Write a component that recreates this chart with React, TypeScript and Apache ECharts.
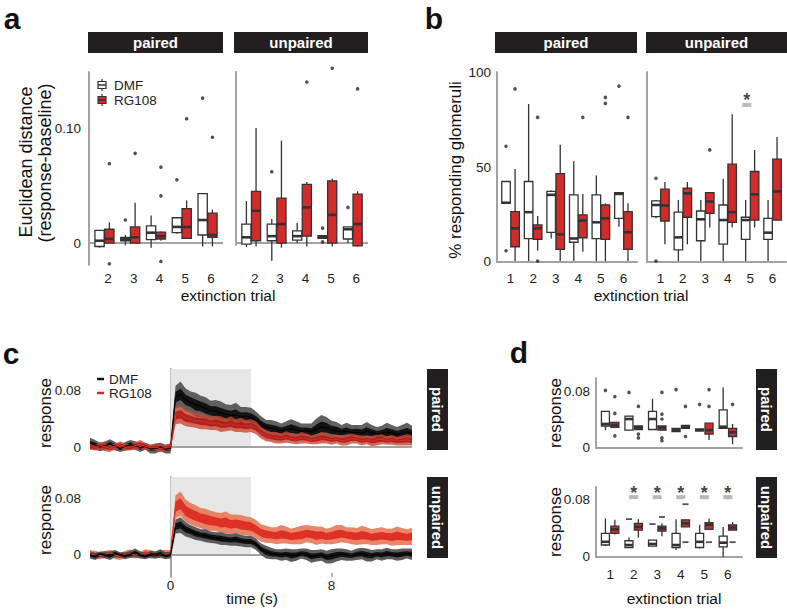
import React, { useEffect, useRef } from 'react';
import * as echarts from 'echarts';

const FONT = '"Liberation Sans", Arial, Helvetica, sans-serif';
const RED = '#d42a2a';
const DARK = '#333333';
const AXIS_GRAY = '#a2a2a2';
const STRIP = '#231f20';

// ---------- panel a: Euclidean distance ----------
const TRIALS_A = [2, 3, 4, 5, 6];
// [min, q1, median, q3, max]
const A_PAIRED_DMF = [
  [-0.004, -0.003, 0.002, 0.011, 0.011],
  [-0.002, 0.002, 0.0035, 0.005, 0.007],
  [-0.004, 0.003, 0.009, 0.015, 0.024],
  [0.008, 0.009, 0.014, 0.022, 0.022],
  [-0.003, 0.007, 0.02, 0.043, 0.043],
];
const A_PAIRED_RG = [
  [0.0, 0.0, 0.0035, 0.012, 0.018],
  [0.0, 0.0, 0.005, 0.014, 0.035],
  [0.002, 0.0035, 0.006, 0.0095, 0.01],
  [0.004, 0.004, 0.014, 0.03, 0.037],
  [-0.003, 0.005, 0.007, 0.026, 0.029],
];
const A_PAIRED_DMF_OUT = [[3, 0.02], [5, 0.055], [6, 0.126]];
const A_PAIRED_RG_OUT = [[2, 0.069], [2, -0.018], [3, 0.078], [4, 0.066], [4, 0.041], [4, -0.016], [5, 0.108], [6, 0.092]];
const A_UNPAIRED_DMF = [
  [-0.0035, -0.001, 0.005, 0.0165, 0.0365],
  [-0.0155, 0.002, 0.006, 0.0165, 0.021],
  [0.0, 0.0025, 0.006, 0.0105, 0.0175],
  [0.004, 0.004, 0.005, 0.0065, 0.0065],
  [0.0, 0.0035, 0.012, 0.014, 0.014],
];
const A_UNPAIRED_RG = [
  [-0.003, 0.002, 0.028, 0.045, 0.1],
  [-0.004, 0.0, 0.0165, 0.039, 0.089],
  [-0.003, 0.006, 0.031, 0.051, 0.053],
  [-0.003, 0.0, 0.0245, 0.054, 0.056],
  [-0.003, -0.0025, 0.0165, 0.0425, 0.045],
];
const A_UNPAIRED_DMF_OUT = [[3, 0.062], [5, 0.013], [5, 0.001], [6, 0.031]];
const A_UNPAIRED_RG_OUT = [[4, 0.14], [5, 0.152], [6, 0.134]];

// ---------- panel b: % responding glomeruli ----------
const TRIALS_BD = [1, 2, 3, 4, 5, 6];
const B_PAIRED_DMF = [
  [30.7, 30.7, 31, 42.3, 42.3],
  [0, 11.9, 26, 42.3, 83.5],
  [12, 15.3, 35.2, 37, 37.5],
  [0, 10, 12, 35.2, 53],
  [0, 11.9, 20.6, 35.2, 45.5],
  [18.3, 22.7, 35.7, 36.4, 36.4],
];
const B_PAIRED_RG = [
  [0, 7.6, 17.4, 26.3, 49],
  [5.5, 11.5, 17.4, 19.2, 24],
  [0, 6.2, 14.2, 46.5, 61.8],
  [5, 12.4, 21.5, 24.5, 35.7],
  [0, 11.5, 22.7, 29.8, 30.7],
  [0, 6.2, 15.3, 26.3, 30.7],
];
const B_PAIRED_DMF_OUT = [[1, 61], [1, 5.5], [6, 93]];
const B_PAIRED_RG_OUT = [[1, 91.5], [2, 76.4], [2, 0], [4, 76.4], [5, 87], [5, 83.8], [6, 76.4]];
const B_UNPAIRED_DMF = [
  [22.7, 23.6, 29.8, 32, 32.5],
  [0, 5.9, 12.6, 26, 32.5],
  [0, 10.8, 22.2, 26.6, 32.5],
  [0, 9, 21.8, 29.8, 43.7],
  [0, 11.5, 21.8, 23.3, 32.5],
  [0, 11.5, 15.1, 22.7, 32.5],
];
const B_UNPAIRED_RG = [
  [8.9, 21.3, 29.5, 38.2, 42],
  [8.9, 23.3, 36, 38.7, 42],
  [17.8, 25.4, 31.6, 36.4, 36.4],
  [17.8, 20.6, 26, 51.5, 78],
  [17.8, 21.8, 35.5, 47.6, 59],
  [21.8, 21.8, 37, 54.2, 66],
];
const B_UNPAIRED_DMF_OUT = [[1, 44], [1, 0]];
const B_UNPAIRED_RG_OUT = [[3, 59.1]];
const B_SIG_TRIALS = [5];
const B_SIG_BAR = 83;
const B_SIG_STAR = 85.5;

// ---------- panel c: response time courses ----------
const TIME_START = -4;
const TIME_STEP = 0.25;
const C_PAIRED_DMF_MEAN = [
  0.005, 0.003, 0.0, 0.002, 0.004, 0.001, -0.002, 0.001, 0.003, 0.002, -0.001, 0.001, -0.003, -0.002, 0.0, -0.003, -0.002,
  0.07, 0.074, 0.066, 0.063, 0.059, 0.057, 0.054, 0.051, 0.05, 0.047, 0.046, 0.044, 0.045, 0.042, 0.043, 0.041,
  0.038, 0.032, 0.028, 0.026, 0.025, 0.023, 0.024, 0.026, 0.024, 0.022, 0.023, 0.021, 0.025, 0.028, 0.027, 0.024,
  0.023, 0.021, 0.022, 0.02, 0.021, 0.019, 0.022, 0.02, 0.018, 0.019, 0.021, 0.02, 0.018, 0.019, 0.021, 0.019,
];
const C_PAIRED_DMF_SEM = [
  0.008, 0.007, 0.006, 0.006, 0.007, 0.006, 0.005, 0.006, 0.007, 0.006, 0.006, 0.005, 0.006, 0.007, 0.006, 0.006, 0.007,
  0.016, 0.018, 0.016, 0.015, 0.017, 0.015, 0.016, 0.014, 0.016, 0.017, 0.014, 0.015, 0.017, 0.014, 0.013, 0.014,
  0.012, 0.011, 0.01, 0.012, 0.011, 0.01, 0.012, 0.013, 0.012, 0.011, 0.01, 0.012, 0.015, 0.017, 0.015, 0.013,
  0.012, 0.01, 0.012, 0.011, 0.01, 0.012, 0.013, 0.011, 0.01, 0.011, 0.013, 0.011, 0.01, 0.012, 0.013, 0.011,
];
const C_PAIRED_RG_MEAN = [
  0.001, -0.001, 0.002, 0.0, -0.002, 0.001, 0.003, 0.0, -0.001, 0.002, 0.004, 0.001, -0.001, 0.0, -0.002, -0.001, 0.0,
  0.044, 0.046, 0.041, 0.039, 0.037, 0.036, 0.035, 0.033, 0.034, 0.032, 0.031, 0.033, 0.03, 0.031, 0.029, 0.03,
  0.027, 0.02, 0.016, 0.014, 0.013, 0.012, 0.014, 0.012, 0.011, 0.013, 0.012, 0.01, 0.011, 0.013, 0.012, 0.01,
  0.011, 0.009, 0.01, 0.012, 0.011, 0.009, 0.01, 0.008, 0.01, 0.011, 0.009, 0.01, 0.008, 0.009, 0.01, 0.009,
];
const C_PAIRED_RG_SEM = [
  0.005, 0.004, 0.005, 0.006, 0.005, 0.004, 0.005, 0.005, 0.004, 0.005, 0.006, 0.005, 0.004, 0.005, 0.005, 0.004, 0.005,
  0.012, 0.013, 0.012, 0.011, 0.01, 0.011, 0.01, 0.009, 0.01, 0.011, 0.009, 0.01, 0.009, 0.01, 0.009, 0.009,
  0.009, 0.008, 0.008, 0.007, 0.008, 0.007, 0.008, 0.007, 0.007, 0.008, 0.007, 0.006, 0.007, 0.008, 0.007, 0.007,
  0.006, 0.007, 0.008, 0.007, 0.006, 0.007, 0.006, 0.007, 0.008, 0.007, 0.006, 0.007, 0.006, 0.007, 0.008, 0.007,
];
const C_UNPAIRED_DMF_MEAN = [
  0.0, -0.002, 0.001, 0.0, -0.001, 0.002, 0.0, -0.001, 0.001, 0.003, 0.0, -0.002, 0.001, 0.0, 0.002, -0.001, 0.0,
  0.04, 0.042, 0.036, 0.033, 0.03, 0.028, 0.027, 0.025, 0.024, 0.023, 0.022, 0.021, 0.022, 0.02, 0.019, 0.019,
  0.015, 0.008, 0.004, 0.002, 0.001, 0.0, 0.001, -0.001, 0.0, 0.002, 0.001, -0.002, -0.001, 0.0, -0.003, -0.002,
  0.0, 0.001, 0.0, -0.001, 0.001, 0.002, 0.0, -0.001, 0.001, 0.0, 0.002, 0.001, 0.0, 0.001, 0.002, 0.001,
];
const C_UNPAIRED_DMF_SEM = [
  0.005, 0.005, 0.004, 0.005, 0.006, 0.005, 0.004, 0.005, 0.005, 0.006, 0.005, 0.004, 0.005, 0.005, 0.006, 0.005, 0.005,
  0.01, 0.011, 0.01, 0.009, 0.009, 0.008, 0.009, 0.008, 0.008, 0.009, 0.008, 0.008, 0.009, 0.008, 0.008, 0.008,
  0.008, 0.008, 0.009, 0.008, 0.007, 0.008, 0.008, 0.009, 0.008, 0.007, 0.008, 0.009, 0.008, 0.008, 0.009, 0.01,
  0.009, 0.008, 0.008, 0.007, 0.008, 0.008, 0.009, 0.008, 0.007, 0.008, 0.008, 0.007, 0.008, 0.008, 0.007, 0.008,
];
const C_UNPAIRED_RG_MEAN = [
  0.002, 0.0, -0.001, 0.001, 0.003, 0.0, -0.002, 0.001, 0.002, 0.0, 0.001, 0.003, 0.001, 0.0, 0.002, 0.001, 0.002,
  0.068, 0.072, 0.062, 0.058, 0.055, 0.052, 0.05, 0.048, 0.047, 0.045, 0.046, 0.043, 0.044, 0.042, 0.041, 0.04,
  0.036, 0.031, 0.029, 0.028, 0.027, 0.029, 0.028, 0.026, 0.027, 0.028, 0.03, 0.029, 0.027, 0.028, 0.026, 0.027,
  0.029, 0.03, 0.028, 0.027, 0.026, 0.028, 0.027, 0.025, 0.026, 0.027, 0.026, 0.025, 0.027, 0.026, 0.025, 0.026,
];
const C_UNPAIRED_RG_SEM = [
  0.005, 0.006, 0.005, 0.005, 0.004, 0.006, 0.005, 0.005, 0.006, 0.005, 0.004, 0.005, 0.006, 0.005, 0.005, 0.006, 0.005,
  0.016, 0.017, 0.016, 0.015, 0.015, 0.014, 0.015, 0.014, 0.013, 0.014, 0.015, 0.014, 0.013, 0.014, 0.013, 0.013,
  0.013, 0.012, 0.012, 0.011, 0.012, 0.013, 0.012, 0.011, 0.012, 0.013, 0.012, 0.012, 0.013, 0.012, 0.011, 0.012,
  0.013, 0.012, 0.011, 0.012, 0.012, 0.013, 0.012, 0.011, 0.012, 0.012, 0.011, 0.012, 0.013, 0.012, 0.011, 0.012,
];
const C_STIM = [0, 4];

// ---------- panel d: response per trial ----------
const D_PAIRED_DMF = [
  [0.025, 0.031, 0.034, 0.052, 0.052],
  [0.025, 0.025, 0.041, 0.045, 0.045],
  [0.026, 0.026, 0.041, 0.052, 0.07],
  [0.023, 0.023, 0.025, 0.0275, 0.0275],
  [0.024, 0.024, 0.025, 0.027, 0.027],
  [0.0275, 0.0275, 0.03, 0.054, 0.086],
];
const D_PAIRED_RG = [
  [0.029, 0.029, 0.032, 0.036, 0.036],
  [0.026, 0.026, 0.029, 0.031, 0.031],
  [0.025, 0.025, 0.0285, 0.031, 0.031],
  [0.0275, 0.0275, 0.03, 0.032, 0.032],
  [0.011, 0.0195, 0.025, 0.035, 0.035],
  [0.005, 0.016, 0.022, 0.0275, 0.034],
];
const D_PAIRED_DMF_OUT = [[1, 0.082], [2, 0.079], [4, 0.083], [5, 0.062]];
const D_PAIRED_RG_OUT = [
  [1, 0.073], [1, 0.049], [1, 0.017], [2, 0.059], [2, 0.0195], [2, 0.014],
  [3, 0.079], [3, 0.048], [3, 0.041], [3, 0.014], [3, 0.01], [4, 0.059], [4, 0.016],
  [5, 0.083], [5, 0.059], [6, 0.062],
];
const D_UNPAIRED_DMF = [
  [0.015, 0.0165, 0.021, 0.033, 0.054],
  [0.013, 0.013, 0.0165, 0.0225, 0.027],
  [0.015, 0.015, 0.018, 0.0235, 0.0235],
  [0.0094, 0.013, 0.0165, 0.033, 0.053],
  [0.0118, 0.013, 0.021, 0.033, 0.045],
  [0.0, 0.014, 0.0198, 0.029, 0.042],
];
const D_UNPAIRED_RG = [
  [0.0315, 0.033, 0.0385, 0.043, 0.052],
  [0.027, 0.0375, 0.042, 0.047, 0.053],
  [0.029, 0.036, 0.04, 0.043, 0.047],
  [0.042, 0.042, 0.047, 0.052, 0.052],
  [0.0375, 0.0385, 0.045, 0.048, 0.054],
  [0.0375, 0.0375, 0.041, 0.045, 0.049],
];
const D_UNPAIRED_DMF_OUT = [[2, 0.053], [3, 0.046]];
const D_UNPAIRED_RG_OUT = [[3, 0.056], [4, 0.074], [4, 0.0205], [5, 0.0205], [6, 0.0205]];
const D_SIG_TRIALS = [2, 3, 4, 5, 6];
const D_SIG_BAR = 0.084;
const D_SIG_STAR = 0.09;

// ---------- helpers ----------
const boxRows = (trials: number[], stats: number[][], off: number) =>
  trials.map((t, i) => [t + off, ...stats[i]]);
const outRows = (list: number[][], off: number) => list.map(([t, v]) => [t + off, v]);

function boxSeries(gi: number, rows: number[][], fill: string, hw: number) {
  return {
    type: 'custom',
    xAxisIndex: gi,
    yAxisIndex: gi,
    z: 3,
    silent: true,
    data: rows,
    encode: { x: 0, y: [1, 2, 3, 4, 5] },
    renderItem: (params: any, api: any) => {
      const x = api.value(0);
      const mn = api.value(1), q1 = api.value(2), md = api.value(3), q3 = api.value(4), mx = api.value(5);
      const a = api.coord([x, mn]);
      const b = api.coord([x, mx]);
      const tl = api.coord([x - hw, q3]);
      const br = api.coord([x + hw, q1]);
      const ml = api.coord([x - hw, md]);
      const mr = api.coord([x + hw, md]);
      return {
        type: 'group',
        children: [
          { type: 'line', shape: { x1: a[0], y1: a[1], x2: b[0], y2: b[1] }, style: { stroke: DARK, lineWidth: 1.3 } },
          {
            type: 'rect',
            shape: { x: tl[0], y: tl[1], width: br[0] - tl[0], height: Math.max(br[1] - tl[1], 1.5) },
            style: { fill, stroke: DARK, lineWidth: 1.3 },
          },
          { type: 'line', shape: { x1: ml[0], y1: ml[1], x2: mr[0], y2: mr[1] }, style: { stroke: DARK, lineWidth: 2.6 } },
        ],
      };
    },
  };
}

function outlierSeries(gi: number, rows: number[][], dash = false) {
  return {
    type: 'scatter',
    xAxisIndex: gi,
    yAxisIndex: gi,
    z: 4,
    silent: true,
    clip: false,
    symbol: dash ? 'rect' : 'circle',
    symbolSize: dash ? [6, 1.8] : 3.6,
    itemStyle: { color: '#262626' },
    data: rows,
  };
}

function sigSeries(gi: number, trials: number[], bar: number, star: number) {
  return [
    {
      type: 'scatter', xAxisIndex: gi, yAxisIndex: gi, z: 4, silent: true, clip: false,
      symbol: 'rect', symbolSize: [9, 4], itemStyle: { color: '#a8a8a8' },
      data: trials.map((t) => [t, bar]),
    },
    {
      type: 'scatter', xAxisIndex: gi, yAxisIndex: gi, z: 4, silent: true, clip: false,
      symbol: 'circle', symbolSize: 1, itemStyle: { color: 'transparent' },
      label: { show: true, position: 'inside', formatter: '*', fontSize: 18, fontWeight: 'bold', color: '#111', fontFamily: FONT },
      data: trials.map((t) => [t, star]),
    },
  ];
}

function bandSeries(gi: number, rows: number[][], color: string, z: number) {
  return {
    type: 'custom',
    xAxisIndex: gi,
    yAxisIndex: gi,
    z,
    silent: true,
    data: rows,
    encode: { x: 0, y: [1, 2] },
    renderItem: (params: any, api: any) => {
      if (params.dataIndex !== 0) return null;
      const upper = rows.map((r) => api.coord([r[0], r[2]]));
      const lower = rows.map((r) => api.coord([r[0], r[1]])).reverse();
      return { type: 'polygon', shape: { points: upper.concat(lower) }, style: { fill: color } };
    },
  };
}

function meanLine(gi: number, time: number[], mean: number[], color: string, z: number) {
  return {
    type: 'line', xAxisIndex: gi, yAxisIndex: gi, z, silent: true, clip: false,
    showSymbol: false, symbol: 'none',
    lineStyle: { color, width: 1.1 },
    data: time.map((t, i) => [t, mean[i]]),
  };
}

const TIME = C_PAIRED_DMF_MEAN.map((_, i) => TIME_START + i * TIME_STEP);
const bandRows = (mean: number[], sem: number[], k: number) =>
  TIME.map((t, i) => [t, mean[i] - sem[i] * k, mean[i] + sem[i] * k]);

function txt(text: string, x: number, y: number, size: number, o: any = {}) {
  return {
    type: 'text', x, y, rotation: o.rot || 0, silent: true, z: 100,
    style: {
      text, x: 0, y: 0, fill: o.color || '#111',
      font: `${o.bold ? 'bold ' : ''}${size}px ${FONT}`,
      align: o.align || 'center', textAlign: o.align || 'center',
      verticalAlign: 'middle', textVerticalAlign: 'middle',
    },
  };
}
function strip(label: string, x: number, y: number, w: number, h: number, vertical = false) {
  return [
    { type: 'rect', shape: { x, y, width: w, height: h }, style: { fill: STRIP }, silent: true, z: 90 },
    txt(label, x + w / 2, y + h / 2, 15, { bold: true, color: '#ffffff', rot: vertical ? -Math.PI / 2 : 0 }),
  ];
}

const yFmt = (v: number) => (v === 0 ? '0' : Math.abs(v - 0.1) < 1e-9 ? '0.10' : String(v));

function yAxis(gi: number, min: number, max: number, labels: number[] | null, margin: number) {
  return {
    type: 'value', gridIndex: gi, min, max,
    axisLine: { show: true, lineStyle: { color: AXIS_GRAY, width: 2 } },
    axisTick: { show: false },
    splitLine: { show: false },
    axisLabel: labels
      ? { show: true, customValues: labels, formatter: yFmt, color: '#222', fontSize: 13.5, fontFamily: FONT, margin }
      : { show: false },
  };
}
function xAxis(gi: number, min: number, max: number, labels: number[] | null, margin: number, line: boolean, pad = 0) {
  return {
    type: 'value', gridIndex: gi, min, max,
    axisLine: { show: line, onZero: false, lineStyle: { color: AXIS_GRAY, width: 2 } },
    axisTick: { show: false },
    splitLine: { show: false },
    axisLabel: labels
      ? { show: true, customValues: labels, color: '#222', fontSize: 13.5, fontFamily: FONT, margin, padding: [0, 0, 0, pad] }
      : { show: false },
  };
}

function zeroLine(gi: number, x0: number, x1: number, area?: number[]) {
  const s: any = {
    type: 'line', xAxisIndex: gi, yAxisIndex: gi, z: 1, silent: true, symbol: 'none', showSymbol: false,
    lineStyle: { color: AXIS_GRAY, width: 2 },
    data: [[x0, 0], [x1, 0]],
  };
  if (area) {
    s.markArea = {
      silent: true,
      itemStyle: { color: '#e6e6e6' },
      data: [[{ coord: [C_STIM[0], 0] }, { coord: [C_STIM[1], area[1]] }]],
    };
  }
  return s;
}

export default function App() {
  const ref = useRef<HTMLDivElement>(null);
  useEffect(() => {
    if (!ref.current) return;
    const chart = echarts.init(ref.current, undefined, { renderer: 'svg' });
    const OA = 0.19, HA = 0.18; // panel a
    const OB = 0.2, HB = 0.19; // panel b
    const OD = 0.2, HD = 0.17; // panel d
    const cTopMax = 0.1095, cBotMax = 0.1095;

    const series: any[] = [
      // a paired
      zeroLine(0, 1.4, 6.6),
      boxSeries(0, boxRows(TRIALS_A, A_PAIRED_DMF, -OA), '#ffffff', HA),
      boxSeries(0, boxRows(TRIALS_A, A_PAIRED_RG, OA), RED, HA),
      outlierSeries(0, outRows(A_PAIRED_DMF_OUT, -OA).concat(outRows(A_PAIRED_RG_OUT, OA))),
      // a unpaired
      zeroLine(1, 1.4, 6.6),
      boxSeries(1, boxRows(TRIALS_A, A_UNPAIRED_DMF, -OA), '#ffffff', HA),
      boxSeries(1, boxRows(TRIALS_A, A_UNPAIRED_RG, OA), RED, HA),
      outlierSeries(1, outRows(A_UNPAIRED_DMF_OUT, -OA).concat(outRows(A_UNPAIRED_RG_OUT, OA))),
      // b paired
      boxSeries(2, boxRows(TRIALS_BD, B_PAIRED_DMF, -OB), '#ffffff', HB),
      boxSeries(2, boxRows(TRIALS_BD, B_PAIRED_RG, OB), RED, HB),
      outlierSeries(2, outRows(B_PAIRED_DMF_OUT, -OB).concat(outRows(B_PAIRED_RG_OUT, OB))),
      // b unpaired
      boxSeries(3, boxRows(TRIALS_BD, B_UNPAIRED_DMF, -OB), '#ffffff', HB),
      boxSeries(3, boxRows(TRIALS_BD, B_UNPAIRED_RG, OB), RED, HB),
      outlierSeries(3, outRows(B_UNPAIRED_DMF_OUT, -OB).concat(outRows(B_UNPAIRED_RG_OUT, OB))),
      ...sigSeries(3, B_SIG_TRIALS.map((t) => t - 0.15), B_SIG_BAR, B_SIG_STAR),
      // c paired
      zeroLine(4, -4, 12, [0, cTopMax]),
      bandSeries(4, bandRows(C_PAIRED_DMF_MEAN, C_PAIRED_DMF_SEM, 1), 'rgba(80,80,80,0.9)', 2),
      bandSeries(4, bandRows(C_PAIRED_DMF_MEAN, C_PAIRED_DMF_SEM, 0.45), 'rgba(15,15,15,0.95)', 3),
      bandSeries(4, bandRows(C_PAIRED_RG_MEAN, C_PAIRED_RG_SEM, 1), 'rgba(205,70,50,0.8)', 4),
      bandSeries(4, bandRows(C_PAIRED_RG_MEAN, C_PAIRED_RG_SEM, 0.45), 'rgba(170,30,25,0.9)', 5),
      meanLine(4, TIME, C_PAIRED_DMF_MEAN, '#000000', 6),
      meanLine(4, TIME, C_PAIRED_RG_MEAN, '#d42a2a', 6),
      // c unpaired
      zeroLine(5, -4, 12, [0, cBotMax]),
      bandSeries(5, bandRows(C_UNPAIRED_RG_MEAN, C_UNPAIRED_RG_SEM, 1), 'rgba(232,112,80,0.85)', 2),
      bandSeries(5, bandRows(C_UNPAIRED_RG_MEAN, C_UNPAIRED_RG_SEM, 0.45), 'rgba(220,40,30,0.9)', 3),
      bandSeries(5, bandRows(C_UNPAIRED_DMF_MEAN, C_UNPAIRED_DMF_SEM, 1), 'rgba(75,75,75,0.9)', 4),
      bandSeries(5, bandRows(C_UNPAIRED_DMF_MEAN, C_UNPAIRED_DMF_SEM, 0.45), 'rgba(15,15,15,0.95)', 5),
      meanLine(5, TIME, C_UNPAIRED_RG_MEAN, '#e0302a', 6),
      meanLine(5, TIME, C_UNPAIRED_DMF_MEAN, '#000000', 6),
      // d paired
      boxSeries(6, boxRows(TRIALS_BD, D_PAIRED_DMF, -OD), '#ffffff', HD),
      boxSeries(6, boxRows(TRIALS_BD, D_PAIRED_RG, OD), RED, HD),
      outlierSeries(6, outRows(D_PAIRED_DMF_OUT, -OD).concat(outRows(D_PAIRED_RG_OUT, OD))),
      // d unpaired
      boxSeries(7, boxRows(TRIALS_BD, D_UNPAIRED_DMF, -OD), '#ffffff', HD),
      boxSeries(7, boxRows(TRIALS_BD, D_UNPAIRED_RG, OD), RED, HD),
      outlierSeries(7, outRows(D_UNPAIRED_DMF_OUT, -OD).concat(outRows(D_UNPAIRED_RG_OUT, OD)), true),
      ...sigSeries(7, D_SIG_TRIALS, D_SIG_BAR, D_SIG_STAR),
    ];

    const graphic: any[] = [
      txt('a', 12, 18, 30, { bold: true, color: '#111' }),
      txt('b', 434, 18, 30, { bold: true, color: '#111' }),
      txt('c', 11, 353, 30, { bold: true, color: '#111' }),
      txt('d', 519, 352, 30, { bold: true, color: '#111' }),
      ...strip('paired', 88, 32, 135, 21),
      ...strip('unpaired', 234, 32, 134, 21),
      ...strip('paired', 495, 32, 142, 21),
      ...strip('unpaired', 646, 32, 141, 21),
      ...strip('paired', 427, 369, 21, 81, true),
      ...strip('unpaired', 427, 477, 21, 81, true),
      ...strip('paired', 756, 369, 21, 81, true),
      ...strip('unpaired', 756, 477, 21, 81, true),
      // axis titles
      txt('Euclidean distance', 26, 162, 18, { rot: Math.PI / 2 }),
      txt('(response-baseline)', 45, 163, 18, { rot: Math.PI / 2 }),
      txt('% responding glomeruli', 455, 170, 17, { rot: Math.PI / 2 }),
      txt('response', 45, 413, 17, { rot: Math.PI / 2 }),
      txt('response', 45, 520, 17, { rot: Math.PI / 2 }),
      txt('response', 555, 413, 17, { rot: Math.PI / 2 }),
      txt('response', 555, 522, 17, { rot: Math.PI / 2 }),
      txt('extinction trial', 228, 295, 15.5),
      txt('extinction trial', 641, 295, 15.5),
      txt('extinction trial', 674, 598, 15.5),
      txt('time (s)', 252, 598, 15.5),
      // legend a
      { type: 'line', shape: { x1: 102, y1: 79, x2: 102, y2: 91 }, style: { stroke: DARK, lineWidth: 1.2 }, z: 95, silent: true },
      { type: 'rect', shape: { x: 98, y: 81.5, width: 8, height: 7 }, style: { fill: '#fff', stroke: DARK, lineWidth: 1.2 }, z: 96, silent: true },
      { type: 'line', shape: { x1: 98, y1: 85, x2: 106, y2: 85 }, style: { stroke: DARK, lineWidth: 1.5 }, z: 97, silent: true },
      { type: 'line', shape: { x1: 102, y1: 94, x2: 102, y2: 106 }, style: { stroke: DARK, lineWidth: 1.2 }, z: 95, silent: true },
      { type: 'rect', shape: { x: 98, y: 96.5, width: 8, height: 7 }, style: { fill: RED, stroke: DARK, lineWidth: 1.2 }, z: 96, silent: true },
      { type: 'line', shape: { x1: 98, y1: 100, x2: 106, y2: 100 }, style: { stroke: DARK, lineWidth: 1.5 }, z: 97, silent: true },
      txt('DMF', 114, 85, 13.5, { align: 'left', color: '#222' }),
      txt('RG108', 114, 100, 13.5, { align: 'left', color: '#222' }),
      // legend c
      { type: 'line', shape: { x1: 97, y1: 379, x2: 104, y2: 379 }, style: { stroke: '#111', lineWidth: 2.5 }, z: 95, silent: true },
      { type: 'line', shape: { x1: 97, y1: 393, x2: 104, y2: 393 }, style: { stroke: RED, lineWidth: 2.5 }, z: 95, silent: true },
      txt('DMF', 109, 379, 13.5, { align: 'left', color: '#222' }),
      txt('RG108', 109, 393, 13.5, { align: 'left', color: '#222' }),
    ];

    chart.setOption({
      animation: false,
      backgroundColor: '#ffffff',
      textStyle: { fontFamily: FONT },
      grid: [
        { left: 89, top: 72, width: 134, height: 193 },
        { left: 236, top: 72, width: 132, height: 173 },
        { left: 497, top: 72, width: 140, height: 190 },
        { left: 647, top: 72, width: 139, height: 190 },
        { left: 90, top: 369, width: 322, height: 79 },
        { left: 90, top: 477, width: 322, height: 100 },
        { left: 596, top: 378, width: 146, height: 70 },
        { left: 596, top: 487, width: 146, height: 70 },
      ],
      xAxis: [
        xAxis(0, 1.4, 6.6, TRIALS_A, 6.5, false, 7),
        xAxis(1, 1.4, 6.6, TRIALS_A, 26.5, false, 7),
        xAxis(2, 0.4, 6.6, TRIALS_BD, 9.5, true),
        xAxis(3, 0.4, 6.6, TRIALS_BD, 9.5, true),
        xAxis(4, -4, 12, null, 0, false),
        {
          ...xAxis(5, -4, 12, [0, 8], 1.5, false),
          axisTick: { show: true, customValues: [0, 8], inside: true, length: 4, lineStyle: { color: AXIS_GRAY, width: 1.5 } },
        },
        xAxis(6, 0.4, 6.6, null, 0, true),
        xAxis(7, 0.4, 6.6, TRIALS_BD, 10.5, true),
      ],
      yAxis: [
        yAxis(0, -0.0191, 0.1487, [0, 0.1], 8),
        yAxis(1, -0.0017, 0.1487, null, 0),
        yAxis(2, -0.5, 100.5, [0, 50, 100], 6),
        yAxis(3, -0.5, 100.5, null, 0),
        yAxis(4, -0.0014, cTopMax, [0, 0.08], 9),
        yAxis(5, -0.0309, cBotMax, [0, 0.08], 9),
        yAxis(6, -0.0004, 0.0996, [0, 0.08], 6),
        yAxis(7, -0.0004, 0.0983, [0, 0.08], 6),
      ],
      series,
      graphic,
    });
    return () => chart.dispose();
  }, []);
  return (
    <div
      ref={ref}
      style={{ position: 'absolute', left: 0, top: 0, width: 787, height: 610, background: '#fff' }}
    />
  );
}
